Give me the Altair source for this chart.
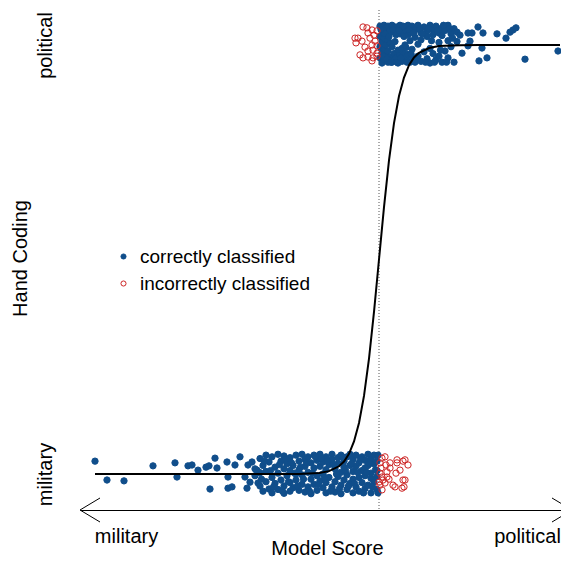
import altair as alt
import pandas as pd

BLUE = "#104E8B"
RED = "#CD2626"
FONT = "Liberation Sans"

# scale extents (model score units, hand coding units)
XMIN, XMAX = -2.99, 1.82
YMIN, YMAX = -0.0839, 1.0816

coding_labels = ["military", "political"]
legend_labels = ["correctly classified", "incorrectly classified"]

# (model score, vertical jitter)
correct_military = [
    (-2.84, 0.030), (-2.72, -0.014), (-2.55, -0.016), (-2.26, 0.019), (-2.04, 0.026),
    (-2.02, -0.007), (-1.91, 0.019), (-1.87, 0.021), (-1.81, 0.009), (-1.73, 0.016),
    (-1.70, 0.019), (-1.69, -0.035), (-1.64, 0.037), (-1.62, 0.014), (-1.52, 0.028),
    (-1.51, -0.007), (-1.51, -0.033), (-1.47, -0.030), (-1.44, 0.021), (-1.39, 0.040),
    (-1.34, -0.007), (-1.31, 0.021), (-1.32, -0.033), (-1.27, 0.028), (-1.29, -0.019),
    (-1.22, 0.009), (-1.21, -0.021),
    (-1.24, 0.012), (-1.24, -0.004),
    (-1.19, 0.036), (-1.19, -0.028), (-1.19, 0.003),
    (-1.16, 0.020), (-1.16, -0.040),
    (-1.13, 0.044), (-1.13, 0.006), (-1.13, -0.018),
    (-1.10, 0.028), (-1.10, -0.035),
    (-1.07, 0.040), (-1.07, -0.008), (-1.07, -0.044),
    (-1.04, 0.016), (-1.04, -0.022),
    (-1.01, 0.046), (-1.01, 0.002), (-1.01, -0.036),
    (-0.98, 0.030), (-0.98, -0.014),
    (-0.95, 0.042), (-0.95, 0.012), (-0.95, -0.028), (-0.95, -0.045),
    (-0.92, 0.024), (-0.92, -0.004),
    (-0.89, 0.038), (-0.89, 0.008), (-0.89, -0.020), (-0.89, -0.040),
    (-0.86, 0.020), (-0.86, -0.032),
    (-0.83, 0.044), (-0.83, 0.000), (-0.83, -0.014),
    (-0.80, 0.030), (-0.80, 0.010), (-0.80, -0.038),
    (-0.77, 0.046), (-0.77, -0.024), (-0.77, -0.002),
    (-0.74, 0.018), (-0.74, -0.042), (-0.74, 0.034),
    (-0.71, 0.040), (-0.71, 0.004), (-0.71, -0.030),
    (-0.68, 0.026), (-0.68, -0.012), (-0.68, -0.046),
    (-0.65, 0.044), (-0.65, 0.014), (-0.65, -0.024),
    (-0.62, 0.032), (-0.62, -0.004), (-0.62, -0.038),
    (-0.59, 0.046), (-0.59, 0.018), (-0.59, -0.016),
    (-0.56, 0.028), (-0.56, -0.032), (-0.56, 0.000),
    (-0.53, 0.040), (-0.53, 0.010), (-0.53, -0.044), (-0.53, -0.020),
    (-0.50, 0.022), (-0.50, -0.008),
    (-0.47, 0.046), (-0.47, 0.034), (-0.47, -0.030),
    (-0.44, 0.012), (-0.44, -0.018), (-0.44, -0.042),
    (-0.41, 0.038), (-0.41, 0.024), (-0.41, -0.006),
    (-0.38, 0.044), (-0.38, -0.026), (-0.38, 0.004), (-0.38, -0.046),
    (-0.35, 0.030), (-0.35, 0.016), (-0.35, -0.014),
    (-0.32, 0.040), (-0.32, -0.036), (-0.32, -0.002),
    (-0.29, 0.020), (-0.29, 0.046), (-0.29, -0.022),
    (-0.26, 0.034), (-0.26, 0.006), (-0.26, -0.044), (-0.26, -0.012),
    (-0.23, 0.044), (-0.23, 0.018), (-0.23, -0.030),
    (-0.20, 0.026), (-0.20, -0.008), (-0.20, -0.040),
    (-0.17, 0.040), (-0.17, 0.008), (-0.17, -0.020),
    (-0.14, 0.032), (-0.14, -0.034), (-0.14, 0.014), (-0.14, -0.004),
    (-0.11, 0.046), (-0.11, 0.020), (-0.11, -0.026),
    (-0.08, 0.036), (-0.08, -0.010), (-0.08, -0.044), (-0.08, 0.002),
    (-0.05, 0.044), (-0.05, 0.024), (-0.05, -0.018),
    (-0.02, 0.030), (-0.02, 0.008), (-0.02, -0.036), (-0.02, -0.006),
    (-1.175, -0.012), (-1.145, 0.030), (-1.085, 0.008), (-1.055, -0.030),
    (-0.995, 0.022), (-0.965, -0.040), (-0.935, 0.034), (-0.905, -0.018),
    (-0.875, 0.026), (-0.845, 0.002), (-0.815, -0.028), (-0.785, 0.016),
    (-0.755, -0.012), (-0.725, 0.026), (-0.695, -0.040), (-0.665, 0.002),
    (-0.635, 0.040), (-0.605, -0.024), (-0.575, 0.036), (-0.545, -0.008),
    (-0.515, 0.030), (-0.485, -0.040), (-0.455, 0.022), (-0.425, 0.000),
    (-0.395, -0.034), (-0.365, 0.040), (-0.335, 0.008), (-0.305, -0.028),
    (-0.275, 0.024), (-0.245, -0.022), (-0.215, 0.004), (-0.185, 0.034),
    (-0.155, -0.044), (-0.125, 0.004), (-0.095, 0.024), (-0.065, -0.030),
    (-0.035, 0.010), (-0.01, -0.044), (-0.01, 0.044),
]

correct_political = [
    (0.01, 0.044), (0.01, 0.020), (0.01, -0.004), (0.01, -0.030),
    (0.03, 0.032), (0.03, 0.008), (0.03, -0.018), (0.03, -0.042),
    (0.05, 0.046), (0.05, 0.016), (0.05, -0.010), (0.05, -0.034),
    (0.07, 0.028), (0.07, 0.000), (0.07, -0.024), (0.07, 0.040),
    (0.09, 0.044), (0.09, 0.012), (0.09, -0.040), (0.09, -0.014),
    (0.11, 0.034), (0.11, -0.028), (0.11, 0.004),
    (0.13, 0.046), (0.13, -0.004), (0.13, -0.040),
    (0.15, 0.030), (0.15, -0.020), (0.15, -0.036),
    (0.17, 0.042), (0.17, 0.024), (0.17, -0.030),
    (0.19, 0.036), (0.19, -0.012), (0.19, -0.042),
    (0.21, 0.046), (0.21, 0.026), (0.21, -0.024),
    (0.23, 0.030), (0.23, -0.008), (0.23, -0.038),
    (0.25, 0.042), (0.25, -0.020), (0.25, 0.020),
    (0.27, 0.034), (0.27, -0.034), (0.27, -0.006),
    (0.29, 0.046), (0.29, 0.024), (0.29, -0.022),
    (0.31, 0.030), (0.31, 0.010), (0.31, -0.040),
    (0.33, 0.044), (0.33, -0.010), (0.33, -0.028),
    (0.36, 0.036), (0.36, 0.018), (0.36, -0.040),
    (0.39, 0.046), (0.39, 0.002), (0.39, -0.026),
    (0.42, 0.028), (0.42, 0.012), (0.42, -0.038),
    (0.45, 0.042), (0.45, -0.016),
    (0.48, 0.032), (0.48, 0.020), (0.48, -0.032),
    (0.51, 0.046), (0.51, -0.008), (0.51, -0.042),
    (0.54, 0.036), (0.54, 0.024), (0.54, -0.020),
    (0.57, 0.044), (0.57, -0.034),
    (0.60, 0.028), (0.60, 0.006), (0.60, -0.026),
    (0.63, 0.040), (0.63, 0.022), (0.63, -0.040),
    (0.66, 0.034), (0.66, -0.014),
    (0.69, 0.046), (0.69, 0.010), (0.69, -0.030),
    (0.72, 0.026), (0.72, -0.004),
    (0.75, 0.038), (0.75, -0.040),
    (0.78, 0.030), (0.78, 0.008),
    (0.02, 0.036), (0.04, -0.026), (0.06, 0.026), (0.08, -0.032), (0.10, 0.020),
    (0.12, -0.040), (0.14, 0.036), (0.16, 0.008), (0.18, -0.040), (0.20, 0.034),
    (0.22, -0.030), (0.24, 0.044), (0.26, 0.000), (0.28, -0.040), (0.30, 0.036),
    (0.32, -0.020), (0.345, 0.028), (0.375, -0.030), (0.405, 0.036), (0.435, 0.026),
    (0.465, -0.040), (0.495, 0.038), (0.525, 0.010), (0.555, -0.040), (0.585, 0.034),
    (0.615, -0.012), (0.645, 0.046), (0.675, -0.040), (0.705, 0.038), (0.735, 0.016),
    (0.81, 0.023), (0.83, -0.019), (0.89, 0.028), (0.91, 0.009), (0.89, -0.002),
    (0.93, 0.028), (0.99, 0.042), (1.04, 0.028), (1.03, -0.007), (1.00, -0.037),
    (1.08, -0.030), (1.18, 0.026), (1.27, 0.016), (1.31, 0.030), (1.34, 0.035),
    (1.37, 0.040), (1.46, -0.033), (1.79, -0.014),
]

incorrect_military = [
    (0.01, 0.026), (0.06, 0.040), (0.11, 0.026), (0.18, 0.026), (0.26, 0.033),
    (0.01, 0.002), (0.08, 0.005), (0.17, 0.002), (0.04, -0.014), (0.08, -0.007),
    (0.26, -0.014), (0.01, -0.026), (0.06, -0.021), (0.14, -0.026), (0.03, -0.037),
    (0.16, -0.030), (0.25, -0.030), (0.29, 0.021), (0.02, 0.014), (0.11, 0.014),
    (0.07, 0.021), (0.03, -0.007), (0.10, -0.012), (0.00, -0.019), (0.03, 0.037),
    (0.18, 0.033), (0.24, 0.030), (0.24, -0.014), (0.23, -0.033), (0.21, 0.009),
]

incorrect_political = [
    (-0.16, 0.042), (-0.12, 0.040), (-0.07, 0.035), (-0.02, 0.033), (-0.11, 0.028),
    (-0.05, 0.023), (-0.21, 0.016), (-0.17, 0.009), (-0.23, 0.005), (-0.09, 0.016),
    (-0.04, 0.009), (-0.07, 0.000), (-0.02, -0.002), (-0.06, -0.012), (-0.11, -0.014),
    (-0.02, -0.019), (-0.19, -0.023), (-0.16, -0.030), (-0.11, -0.028), (-0.06, -0.030),
    (-0.02, -0.026), (-0.07, -0.037), (-0.24, 0.016), (-0.14, -0.005),
]

# fitted curve
curve_score = [-2.84, -1.5, -1.0, -0.8, -0.6, -0.5, -0.4, -0.35, -0.3, -0.25, -0.2,
               -0.15, -0.1, -0.05, 0.0, 0.05, 0.1, 0.15, 0.2, 0.25, 0.3, 0.35, 0.4,
               0.5, 0.6, 0.8, 1.0, 1.81]
curve_prob = [0.0, 0.0, 0.0, 0.0003, 0.0025, 0.0067, 0.018, 0.029, 0.047, 0.076, 0.119,
              0.182, 0.269, 0.378, 0.5, 0.622, 0.731, 0.818, 0.881, 0.924, 0.953, 0.971,
              0.982, 0.993, 0.9975, 0.9997, 1.0, 1.0]

rows = []
for pts, code, cls in [
    (correct_military, 0, legend_labels[0]),
    (correct_political, 1, legend_labels[0]),
    (incorrect_military, 0, legend_labels[1]),
    (incorrect_political, 1, legend_labels[1]),
]:
    for s, j in pts:
        rows.append({"score": s, "coding": code + j, "cls": cls})
points = pd.DataFrame(rows)
points["order"] = points["cls"].map({legend_labels[0]: 0, legend_labels[1]: 1})

curve = pd.DataFrame({"score": curve_score, "coding": curve_prob})
cutoff = pd.DataFrame({"score": [0.0]})

# arrowheads on the score axis (the right one runs past the page edge)
arrows = pd.DataFrame({
    "score": [XMIN, XMIN, 1.93, 1.93],
    "coding": [YMIN, YMIN, YMIN, YMIN],
    "score2": [XMIN + 0.20, XMIN + 0.20, 1.73, 1.73],
    "coding2": [YMIN + 0.028, YMIN - 0.028, YMIN + 0.028, YMIN - 0.028],
})

x_enc = alt.X(
    "score:Q",
    scale=alt.Scale(domain=[XMIN, XMAX], nice=False, zero=False),
    axis=alt.Axis(
        values=[-2.53, 1.48],
        labelExpr="datum.value < 0 ? 'military' : 'political'",
        title="Model Score",
        grid=False, ticks=False, tickSize=0,
        domain=True, domainColor="black", domainWidth=1,
        labelFontSize=20, labelPadding=32, labelColor="black", labelBaseline="alphabetic",
        labelFlush=False, labelOverlap=False, labelFont=FONT,
        titleFontSize=20, titleFont=FONT, titleFontWeight="normal", titleColor="black",
        titleX=247, titleY=44, titleBaseline="alphabetic", titleAlign="center",
    ),
)
y_enc = alt.Y(
    "coding:Q",
    scale=alt.Scale(domain=[YMIN, YMAX], nice=False, zero=False),
    axis=alt.Axis(
        values=[0, 1],
        labelExpr="datum.value < 0.5 ? 'military' : 'political'",
        title="Hand Coding",
        grid=False, ticks=False, tickSize=0, domain=False,
        labelAngle=270, labelAlign="center", labelBaseline="alphabetic",
        labelFontSize=20, labelPadding=29, labelColor="black",
        labelFlush=False, labelOverlap=False, labelFont=FONT,
        titleFontSize=20, titleFont=FONT, titleFontWeight="normal", titleColor="black",
        titleAngle=270, titleX=-54, titleY=248, titleBaseline="alphabetic", titleAlign="center",
    ),
)

legend_opts = dict(
    title=None, orient="none", legendX=34, legendY=237, padding=0,
    labelFontSize=19, labelFont=FONT, labelColor="black", labelLimit=0,
    symbolSize=26, symbolStrokeWidth=1, labelOffset=7, rowPadding=7,
    symbolType="circle",
)

rule_layer = alt.Chart(cutoff).mark_rule(
    color="#555555", strokeWidth=1, strokeDash=[1, 2]
).encode(x=x_enc)

point_layer = alt.Chart(points).mark_point(
    shape="circle", size=40, strokeWidth=1, opacity=1
).encode(
    x=x_enc,
    y=y_enc,
    fill=alt.Fill("cls:N", scale=alt.Scale(domain=legend_labels, range=[BLUE, "transparent"]),
                  legend=alt.Legend(**legend_opts)),
    stroke=alt.Stroke("cls:N", scale=alt.Scale(domain=legend_labels, range=[BLUE, RED]),
                      legend=alt.Legend(**legend_opts)),
    order=alt.Order("order:Q"),
)

curve_layer = alt.Chart(curve).mark_line(color="black", strokeWidth=2).encode(
    x=x_enc, y=y_enc
)

arrow_layer = alt.Chart(arrows).mark_rule(color="black", strokeWidth=1).encode(
    x=x_enc, y=y_enc, x2="score2:Q", y2="coding2:Q"
)

chart = alt.layer(rule_layer, point_layer, curve_layer, arrow_layer).properties(
    width=481, height=500,
    autosize=alt.AutoSizeParams(type="none"),
    padding={"left": 72, "top": 2, "right": 0, "bottom": 49},
    background="white",
).configure(font=FONT).configure_view(stroke=None, strokeWidth=0).configure_axis(
    grid=False
)

chart.save("out.html", embed_options={"renderer": "svg", "actions": False})
